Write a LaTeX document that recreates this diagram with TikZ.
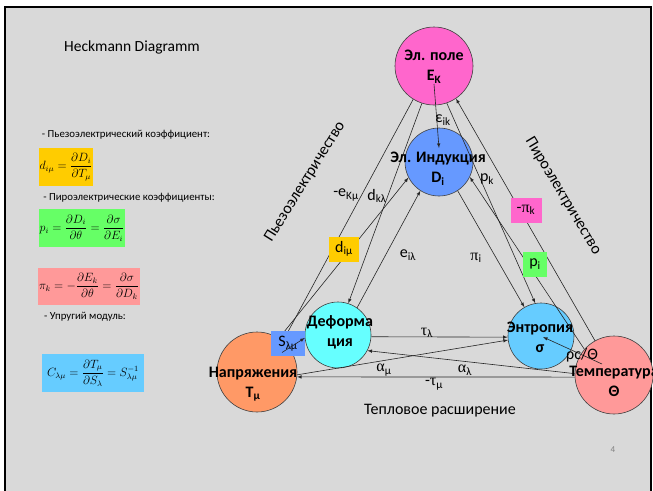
\documentclass[tikz,border=0pt]{standalone}
\usepackage{amsmath}
\usepackage{fontspec}
\setmainfont{Carlito}
\newfontfamily\grk{Liberation Serif}
\usetikzlibrary{calc,positioning}
\definecolor{slidegray}{HTML}{D9D9D9}
\definecolor{feldpink}{HTML}{FF66CC}
\definecolor{indblue}{HTML}{6699FF}
\definecolor{defcyan}{HTML}{66FFFF}
\definecolor{spanorange}{HTML}{FF9966}
\definecolor{entblue}{HTML}{66CCFF}
\definecolor{temprose}{HTML}{FF9999}
\definecolor{piezoyellow}{HTML}{FFCC00}
\definecolor{pyrogreen}{HTML}{66FF66}
\newcommand{\Sub}[2]{#1\textsubscript{#2}}
\newcommand{\Gk}[1]{{\grk #1}}

\begin{document}
\begin{tikzpicture}[>=latex, x=1pt, y=-1pt,
    var/.style={circle, draw=black!75, line width=0.6pt, inner sep=0pt},
    vartext/.style={font=\fontsize{16}{20}\selectfont\bfseries, align=center},
    coef/.style={font=\fontsize{16}{16}\selectfont, inner sep=1pt},
    cbox/.style={coef, minimum width=30pt, minimum height=25pt},
    fbox/.style={inner sep=1pt, font=\fontsize{12}{12}\selectfont},
    note/.style={font=\fontsize{10.8}{12}\selectfont},
    link/.style={->, line width=0.6pt, black!85}]

\useasboundingbox (0,0) rectangle (653,490);
\clip (0,0) rectangle (653,490);
\fill[white] (0,0) rectangle (653,490);
\draw[line width=2pt, fill=slidegray] (5,7) rectangle (651,500);

\draw(132,47) node[font=\fontsize{15.5}{17}\selectfont] (title) {Heckmann Diagramm};

\draw(126,135) node[note] (n1) {- Пьезоэлектрический коэффициент:};
\draw(66,167) node[fbox, fill=piezoyellow, minimum width=54pt, minimum height=38pt] (f1)
    {$d_{i\mu}=\dfrac{\partial D_i}{\partial T_\mu}$};
\draw(129,198) node[note] (n2) {- Пироэлектрические коэффициенты:};
\draw(82,228) node[fbox, fill=pyrogreen, minimum width=86pt, minimum height=38pt] (f2)
    {$p_i=\dfrac{\partial D_i}{\partial\theta}=\dfrac{\partial\sigma}{\partial E_i}$};
\draw(89,286.5) node[fbox, fill=temprose, minimum width=102pt, minimum height=37pt] (f3)
    {$\pi_k=-\dfrac{\partial E_k}{\partial\theta}=\dfrac{\partial\sigma}{\partial D_k}$};
\draw(85,317) node[note] (n3) {- Упругий модуль:};
\draw(93,373) node[fbox, fill=entblue, minimum width=102pt, minimum height=38pt] (f4)
    {$C_{\lambda\mu}=\dfrac{\partial T_\mu}{\partial S_\lambda}=S^{-1}_{\lambda\mu}$};

\draw(434,66) node[var, fill=feldpink, minimum size=78pt] (E) {};
\draw(439,162) node[var, fill=indblue, minimum size=68pt] (D) {};
\draw(338,335) node[var, fill=defcyan, minimum size=66pt] (S) {};
\draw(257,372) node[var, fill=spanorange, minimum size=80pt] (T) {};
\draw(541,336) node[var, fill=entblue, minimum size=66pt] (sig) {};
\draw(614,375) node[var, fill=temprose, minimum size=78pt] (Th) {};

\draw[link] ([yshift=-18pt]E.center) -- ([yshift=14pt]D.center);
\draw[link] (E.238) -- (T.50);
\draw[link] (T.57) -- (D.207);
\draw[link] (E.252) -- (S.72);
\draw[link] (S.55) -- (D.237);
\draw[link] (Th.119) -- (E.304);
\draw[link] (Th.139) -- (D.334);
\draw[link] (D.303) -- (sig.120);
\draw[link] (E.289) -- (sig.100);
\draw[link] (S.357) -- (sig.182);
\draw[link] (T.356) -- (sig.187);
\draw[link] (Th.178) -- (S.332);
\draw[link] (Th.183) -- (T.353);
\draw[link] ([shift={(-12pt,11pt)}]Th.center) -- ([shift={(2pt,-1pt)}]sig.center);

\draw(434,67) node[vartext] (tE) {Эл. поле\\\Sub{E}{K}};
\draw(438,169) node[vartext] (tD) {Эл. Индукция\\\Sub{D}{i}};
\draw(340,332) node[vartext] (tS) {Деформа\\ция};
\draw(253,384) node[vartext] (tT) {Напряжения\\\Sub{T}{μ}};
\draw(540,337) node[vartext] (tsig) {Энтропия\\σ};
\draw(614,381) node[vartext] (tTh) {Температура\\Θ};

\draw(443,120) node[coef] (lek) {\Sub{ε}{ik}};
\draw(346,195) node[coef] (lekm) {-\Sub{e}{Kμ}};
\draw(377,196) node[coef] (ldkl) {\Sub{d}{kλ}};
\draw(344,249) node[cbox, fill=piezoyellow] (ldim) {\Sub{d}{iμ}};
\draw(408,255) node[coef] (leil) {\Sub{e}{iλ}};
\draw(476,258) node[coef] (lpii) {\Sub{\Gk{π}}{i}};
\draw(487,179) node[coef] (lpk) {\Sub{p}{k}};
\draw(526,210) node[cbox, fill=feldpink, minimum width=31pt] (lmpk) {-\Sub{\Gk{π}}{k}};
\draw(535,264) node[cbox, fill=pyrogreen, minimum width=24pt] (lpi) {\Sub{p}{i}};
\draw(427,333) node[coef] (ltl) {\Sub{\Gk{τ}}{λ}};
\draw(384,370) node[coef] (lam) {\Sub{\Gk{α}}{μ}};
\draw(465,370) node[coef] (lal) {\Sub{\Gk{α}}{λ}};
\draw(434,384) node[coef] (ltm) {-\Sub{\Gk{τ}}{μ}};
\draw(582,355) node[coef] (lrc) {ρc/Θ};
\draw(288,343.5) node[cbox, fill=indblue, minimum width=34pt] (lslm) {\Sub{S}{λμ}};
\draw[link] ([shift={(-6pt,-9pt)}]lslm.center) -- (S.185);

\draw(440,411) node[coef] (therm) {Тепловое расширение};
\draw(305,182) node[coef, rotate=58] (piezo) {Пьезоэлектричество};
\draw(563,196) node[coef, rotate=-59] (pyro) {Пироэлектричество};
\draw(613,450) node[font=\fontsize{9}{9}\selectfont, text=gray] (pnum) {4};

\end{tikzpicture}
\end{document}
